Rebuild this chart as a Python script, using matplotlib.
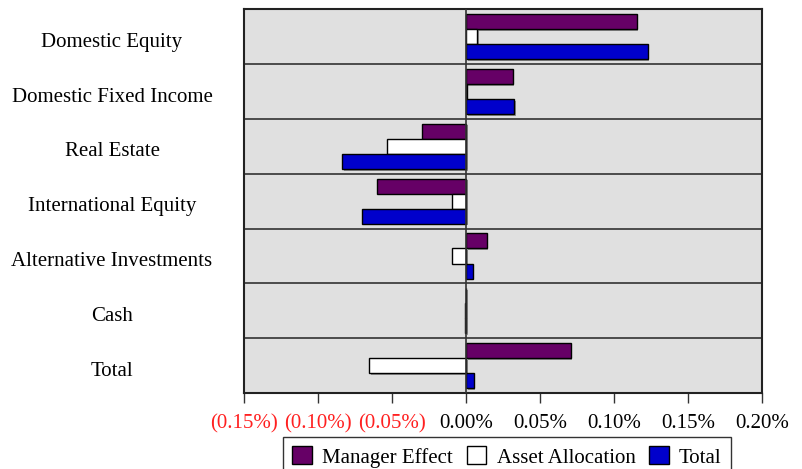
import matplotlib
matplotlib.use("Agg")
import matplotlib.pyplot as plt
import matplotlib.patheffects as pe
import matplotlib.transforms as mtransforms
from matplotlib.patches import Patch
import numpy as np

categories = ["Domestic Equity", "Domestic Fixed Income", "Real Estate",
              "International Equity", "Alternative Investments", "Cash", "Total"]
manager_effect = [0.1153, 0.0315, -0.0295, -0.0603, 0.0140, -0.0002, 0.0707]
asset_allocation = [0.0077, 0.0005, -0.0536, -0.0097, -0.0097, -0.0004, -0.0653]
total = [0.1228, 0.0327, -0.0836, -0.0700, 0.0045, -0.0004, 0.0052]
series_names = ["Manager Effect", "Asset Allocation", "Total"]
xticks = [-0.15, -0.10, -0.05, 0.00, 0.05, 0.10, 0.15, 0.20]
xtick_labels = ["(0.15%)", "(0.10%)", "(0.05%)", "0.00%", "0.05%", "0.10%", "0.15%", "0.20%"]

colors = ["#660066", "#FFFFFF", "#0000CC"]
FONT = "Liberation Serif"
FS = 15

fig = plt.figure(figsize=(8.03, 4.69), dpi=100)
ax = fig.add_axes([244/803, 1-393/469, (762-244)/803, (393-9.3)/469])
ax.set_facecolor("#E0E0E0")

n = len(categories)
y = np.arange(n)
h = 0.275
shadow = [pe.SimplePatchShadow(offset=(1.2, -1.2), shadow_rgbFace="#707070", alpha=0.7), pe.Normal()]
for i, (vals, c) in enumerate(zip([manager_effect, asset_allocation, total], colors)):
    bars = ax.barh(y + (i - 1) * h, vals, height=h, color=c, edgecolor="black",
                   linewidth=1.0, zorder=3)
    for b in bars:
        b.set_path_effects(shadow)

ax.set_ylim(n - 0.5, -0.5)
ax.set_xlim(-0.15, 0.20)

# separators
for k in range(1, n):
    ax.axhline(k - 0.5, color="#333333", linewidth=1.2, zorder=2)
ax.axvline(0, color="#333333", linewidth=1.2, zorder=4)

for s in ax.spines.values():
    s.set_color("#222222")
    s.set_linewidth(1.5)

ax.set_xticks(xticks)
ax.set_xticklabels(xtick_labels, fontfamily=FONT, fontsize=FS)
for t, v in zip(ax.get_xticklabels(), xticks):
    t.set_color("#FF2020" if v < 0 else "black")
ax.tick_params(axis="x", direction="out", length=7.2, width=1.0, color="#333333", pad=8)

ax.set_yticks(y)
ax.set_yticklabels(categories, fontfamily=FONT, fontsize=FS)
ax.tick_params(axis="y", length=0, pad=95)
down = mtransforms.ScaledTranslation(0, -3/100, fig.dpi_scale_trans)
for t in ax.get_yticklabels():
    t.set_horizontalalignment("center")
    t.set_transform(t.get_transform() + down)

handles = [Patch(facecolor=c, edgecolor="black", linewidth=1.0) for c in colors]
leg = fig.legend(handles, series_names, loc="upper center", ncol=3,
                 bbox_to_anchor=(507/803, 1-437/469), bbox_transform=fig.transFigure,
                 prop={"family": FONT, "size": FS}, frameon=True, fancybox=False,
                 handlelength=0.94, handleheight=0.96, handletextpad=0.5,
                 columnspacing=0.65, borderpad=0.45, borderaxespad=0)
leg.get_frame().set_edgecolor("black")
leg.get_frame().set_linewidth(1.0)

fig.savefig("out.png", dpi=100)
